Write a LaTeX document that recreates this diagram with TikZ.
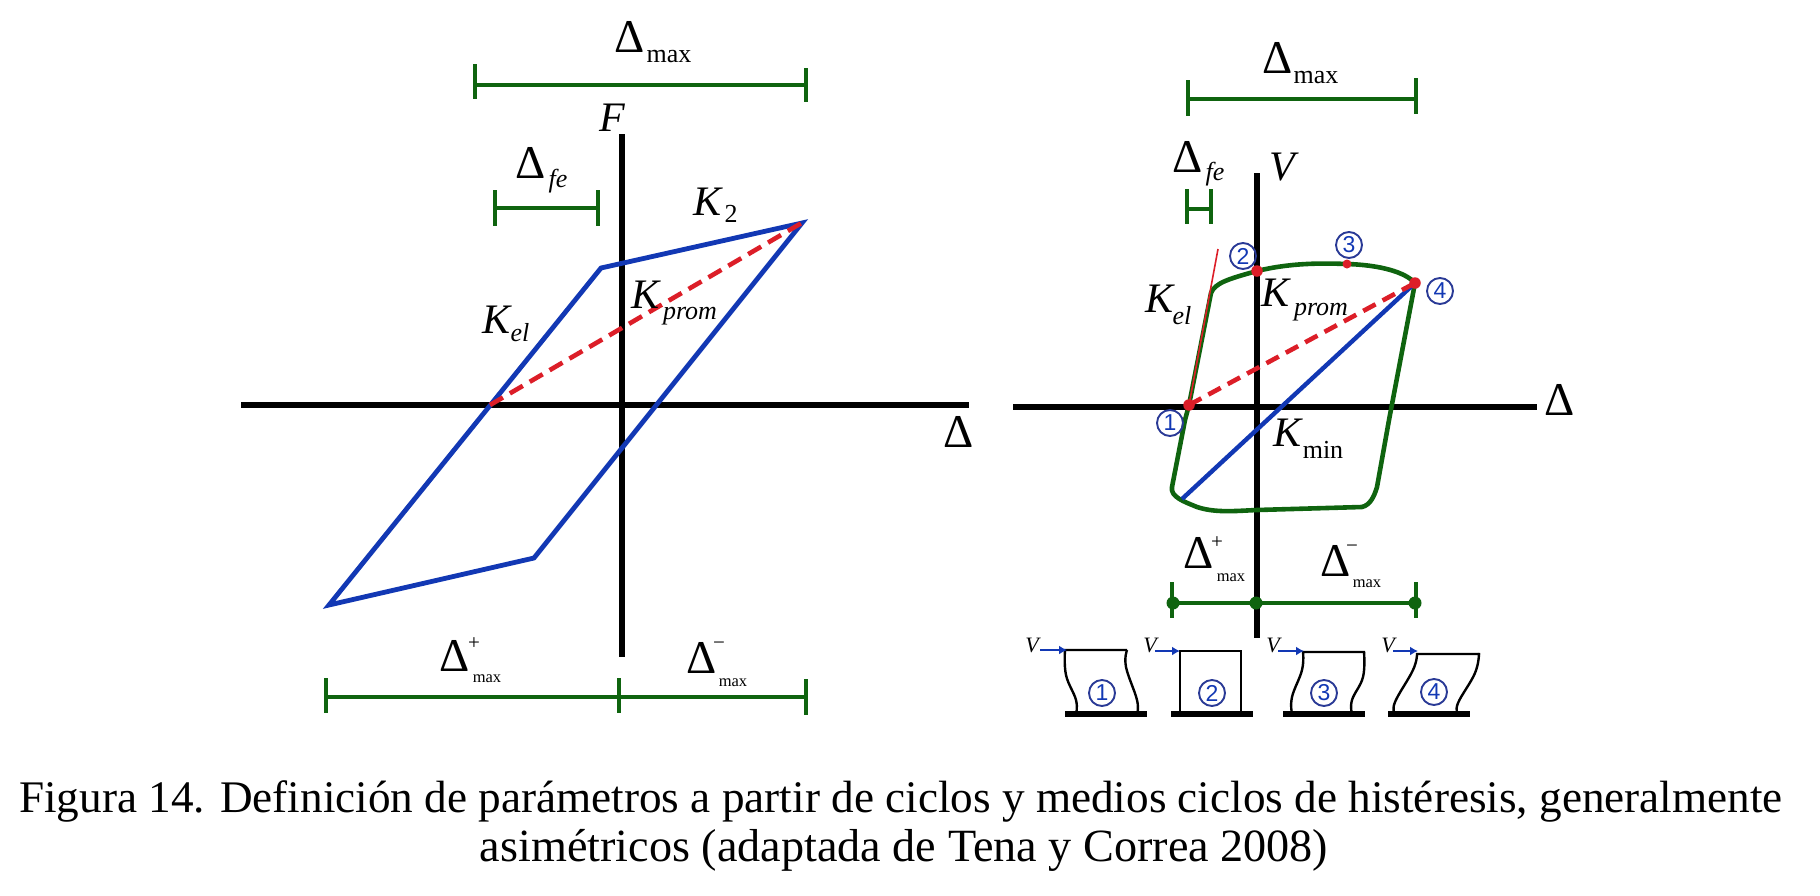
\documentclass[tikz,border=0pt]{standalone}
\usepackage{fontspec}
\setmainfont{Liberation Serif}
\newfontfamily\digitfont{Liberation Sans}
\usetikzlibrary{arrows.meta}
\definecolor{cblue}{HTML}{1238B4}
\definecolor{cgreen}{HTML}{0F640F}
\definecolor{cred}{HTML}{DC1E28}
\definecolor{cnavy}{HTML}{2A3A96}
\tikzset{
  lbl/.style={inner sep=0pt,outer sep=0pt,text=black},
  big/.style={lbl,font=\fontsize{47}{47}\selectfont},
  bigit/.style={lbl,font=\fontsize{42}{42}\selectfont\itshape},
  subt/.style={lbl,font=\fontsize{26}{26}\selectfont},
  subit/.style={lbl,font=\fontsize{26}{26}\selectfont\itshape},
  tiny/.style={lbl,font=\fontsize{16.5}{16.5}\selectfont},
  supr/.style={lbl,font=\fontsize{21}{21}\selectfont},
  smallv/.style={lbl,font=\fontsize{22}{22}\selectfont\itshape},
  caption/.style={lbl,font=\fontsize{45.2}{45.2}\selectfont,anchor=base},
  caption2/.style={lbl,font=\fontsize{46.2}{46.2}\selectfont,anchor=base},
  axis/.style={line width=5.4pt,black},
  bar/.style={line width=4pt,cgreen},
  hyst/.style={line width=4.8pt,cblue,line join=miter},
  loopl/.style={line width=4.6pt,cgreen,line join=round},
  secant/.style={line width=4.6pt,cred,dash pattern=on 15pt off 8pt},
  reddot/.style={circle,fill=cred,inner sep=0pt,minimum size=11.5pt},
  greendot/.style={circle,fill=cgreen,inner sep=0pt,minimum size=13pt},
  num/.style={circle,draw=cnavy,line width=1.9pt,inner sep=0pt,minimum size=26pt,text=cblue,font=\fontsize{23}{23}\selectfont\digitfont},
  col/.style={line width=2.4pt,black,line join=miter},
  colbase/.style={line width=5.5pt,black},
  force/.style={line width=2.6pt,cblue,-{Latex[length=8pt,width=9pt]}},
}
\begin{document}
\begin{tikzpicture}[x=1pt,y=-1pt]
\useasboundingbox (0,0) rectangle (1820,895);
% ---------- left diagram ----------
\coordinate (Lxl) at (241,405); \coordinate (Lxr) at (969,405);
\coordinate (Lyt) at (622,134); \coordinate (Lyb) at (622,657);
\draw[axis] (Lxl) -- (Lxr);
\draw[axis] (Lyt) -- (Lyb);
\coordinate (LA) at (802,223); \coordinate (LB) at (601,268);
\coordinate (LC) at (329,605); \coordinate (LD) at (534,558);
\coordinate (LO) at (490,405); \coordinate (LS) at (805,221);
\draw[hyst] (LA) -- (LB) -- (LC) -- (LD) -- cycle;
\draw[secant] (LO) -- (LS);
% left dimension bars
\coordinate (La) at (475,85); \coordinate (Lb) at (806,85);
\coordinate (Laa) at (475,64); \coordinate (Lab) at (475,99);
\coordinate (Lba) at (806,68); \coordinate (Lbb) at (806,102);
\draw[bar] (La) -- (Lb); \draw[bar] (Laa) -- (Lab); \draw[bar] (Lba) -- (Lbb);
\coordinate (Lc) at (495,208); \coordinate (Ld) at (598,208);
\coordinate (Lca) at (495,190); \coordinate (Lcb) at (495,226);
\coordinate (Lda) at (598,190); \coordinate (Ldb) at (598,226);
\draw[bar] (Lc) -- (Ld); \draw[bar] (Lca) -- (Lcb); \draw[bar] (Lda) -- (Ldb);
\coordinate (Le) at (326,697); \coordinate (Lf) at (619,697); \coordinate (Lg) at (806,697);
\coordinate (Lea) at (326,678); \coordinate (Leb) at (326,713);
\coordinate (Lfa) at (619,678); \coordinate (Lfb) at (619,713);
\coordinate (Lga) at (806,679); \coordinate (Lgb) at (806,715);
\draw[bar] (Le) -- (Lg); \draw[bar,line width=4.8pt] (Lea) -- (Leb); \draw[bar] (Lfa) -- (Lfb); \draw[bar] (Lga) -- (Lgb);
% left labels
\node[big] (t1) at (630,37) {Δ}; \node[subt] (t2) at (669,56) {max};
\node[bigit] (t3) at (612,118) {F};
\node[big] (t4) at (531,163) {Δ}; \node[subit] (t5) at (558,181) {fe};
\node[bigit] (t6) at (707,202) {K}; \node[subt] (t7) at (731,214) {2};
\node[bigit] (t8) at (645,295) {K}; \node[subit] (t9) at (690,316) {prom};
\node[bigit] (t10) at (497,320) {K}; \node[subit] (t11) at (520,333) {el};
\node[big] (t12) at (959,432) {Δ};
\node[big] (t13) at (455,656) {Δ}; \node[supr] (t14) at (474,644) {+}; \node[tiny] (t15) at (487,679) {max};
\node[big] (t16) at (702,658) {Δ}; \node[supr] (t17) at (719,646) {−}; \node[tiny] (t18) at (733,683) {max};
% ---------- right diagram ----------
\coordinate (Rxl) at (1013,407); \coordinate (Rxr) at (1537,407);
\coordinate (Ryt) at (1257,173); \coordinate (Ryb) at (1257,638);
\draw[axis] (Rxl) -- (Rxr);
\draw[axis] (Ryt) -- (Ryb);
\coordinate (P1) at (1189,405); \coordinate (P2) at (1257,271);
\coordinate (P3) at (1347,264); \coordinate (P4) at (1415,283);
\coordinate (Pk) at (1218,249); \coordinate (Pm) at (1182,499);
\draw[loopl] (P1) -- (1211,293) .. controls (1215,283) and (1228,279) .. (P2)
  .. controls (1290,263) and (1320,263) .. (P3) .. controls (1380,265) and (1405,272) .. (P4)
  -- (1389,420) -- (1377,487) .. controls (1374,497) and (1370,505) .. (1362,507)
  -- (1257,510) .. controls (1235,511) and (1215,513) .. (1197,507)
  .. controls (1185,502) and (1170,497) .. (1172,487) -- (1185,420) -- cycle;
\draw[cred,line width=1.6pt] (P1) -- (Pk);
\draw[cblue,line width=4.4pt] (Pm) -- (P4);
\draw[secant,dash pattern=on 14pt off 8pt] (P1) -- (P4);
\node[reddot] (d1) at (P1) {}; \node[reddot] (d2) at (P2) {};
\node[reddot,minimum size=9pt] (d3) at (P3) {}; \node[reddot] (d4) at (P4) {};
% right dimension bars
\coordinate (Ra) at (1188,99); \coordinate (Rb) at (1416,99);
\coordinate (Raa) at (1188,80); \coordinate (Rab) at (1188,116);
\coordinate (Rba) at (1416,78); \coordinate (Rbb) at (1416,114);
\draw[bar] (Ra) -- (Rb); \draw[bar] (Raa) -- (Rab); \draw[bar] (Rba) -- (Rbb);
\coordinate (Rc) at (1187,209); \coordinate (Rd) at (1211,209);
\coordinate (Rca) at (1187,189); \coordinate (Rcb) at (1187,224);
\coordinate (Rda) at (1211,189); \coordinate (Rdb) at (1211,224);
\draw[bar] (Rc) -- (Rd); \draw[bar] (Rca) -- (Rcb); \draw[bar] (Rda) -- (Rdb);
\coordinate (Re) at (1173,603); \coordinate (Rf) at (1256,603); \coordinate (Rg) at (1415,603);
\coordinate (Rea) at (1172,582); \coordinate (Reb) at (1172,618);
\coordinate (Rga) at (1416,582); \coordinate (Rgb) at (1416,618);
\draw[bar] (Re) -- (Rg); \draw[bar] (Rea) -- (Reb); \draw[bar] (Rga) -- (Rgb);
\node[greendot] (g1) at (Re) {}; \node[greendot] (g2) at (Rf) {}; \node[greendot] (g3) at (Rg) {};
% right labels
\node[big] (r1) at (1278,58) {Δ}; \node[subt] (r2) at (1316,77) {max};
\node[big] (r3) at (1188,157) {Δ}; \node[subit] (r4) at (1215,174) {fe};
\node[bigit] (r5) at (1282,167) {V};
\node[big] (r6) at (1560,400) {Δ};
\node[bigit] (r7) at (1159,299) {K}; \node[subit] (r8) at (1182,316) {el};
\node[bigit] (r9) at (1275,293) {K}; \node[subit] (r10) at (1321,312) {prom};
\node[bigit] (r11) at (1287,433) {K}; \node[subt] (r12) at (1323,450) {min};
\node[big] (r13) at (1199,553) {Δ}; \node[supr] (r14) at (1217,543) {+}; \node[tiny] (r15) at (1231,578) {max};
\node[big] (r16) at (1336,561) {Δ}; \node[supr] (r17) at (1352,549) {−}; \node[tiny] (r18) at (1367,584) {max};
\node[num] (n1) at (1170,423) {1};
\node[num] (n2) at (1243,256) {2};
\node[num] (n3) at (1349,245) {3};
\node[num] (n4) at (1440,291) {4};
% ---------- deformed columns ----------
\coordinate (B1a) at (1065,714); \coordinate (B1b) at (1147,714);
\coordinate (B2a) at (1171,714); \coordinate (B2b) at (1253,714);
\coordinate (B3a) at (1283,714); \coordinate (B3b) at (1365,714);
\coordinate (B4a) at (1388,714); \coordinate (B4b) at (1470,714);
\draw[colbase] (B1a) -- (B1b); \draw[colbase] (B2a) -- (B2b);
\draw[colbase] (B3a) -- (B3b); \draw[colbase] (B4a) -- (B4b);
\coordinate (C1a) at (1065,650); \coordinate (C1b) at (1127,650);
\draw[col] plot[smooth,tension=.7] coordinates {(1076,714) (1076,700) (1066,675) (C1a)} -- (C1b);
\draw[col] plot[smooth,tension=.7] coordinates {(C1b) (1126,667) (1137,700) (1137,714)};
\coordinate (C2a) at (1180,651); \coordinate (C2b) at (1241,651);
\coordinate (C2c) at (1180,714); \coordinate (C2d) at (1241,714);
\draw[col] (C2c) -- (C2a) -- (C2b) -- (C2d);
\coordinate (C3a) at (1303,652); \coordinate (C3b) at (1365,652);
\draw[col] plot[smooth,tension=.7] coordinates {(1292,714) (1292,697) (1302,670) (C3a)} -- (C3b);
\draw[col] plot[smooth,tension=.7] coordinates {(1364,652) (1363,677) (1352,700) (1352,714)};
\coordinate (C4a) at (1417,654); \coordinate (C4b) at (1480,654);
\draw[col] plot[smooth,tension=.7] coordinates {(1395,714) (1395,702) (1413,670) (C4a)} -- (C4b);
\draw[col] plot[smooth,tension=.7] coordinates {(1479,653) (1475,673) (1458,703) (1458,714)};
\coordinate (F1) at (1040,650); \coordinate (F2) at (1155,651);
\coordinate (F3) at (1278,651); \coordinate (F4) at (1393,651);
\coordinate (F1t) at (1067,650); \coordinate (F2t) at (1180,651);
\coordinate (F3t) at (1304,651); \coordinate (F4t) at (1418,651);
\draw[force] (F1) -- (F1t);
\draw[force] (F2) -- (F2t);
\draw[force] (F3) -- (F3t);
\draw[force] (F4) -- (F4t);
\node[smallv] (v1) at (1032,645) {V}; \node[smallv] (v2) at (1150,645) {V};
\node[smallv] (v3) at (1273,645) {V}; \node[smallv] (v4) at (1388,645) {V};
\node[num] (c1) at (1102,693) {1}; \node[num] (c2) at (1212,693) {2};
\node[num] (c3) at (1324,693) {3}; \node[num] (c4) at (1434,692) {4};
% ---------- caption ----------
\node[caption] (cap1) at (901,812) {Figura 14. Definición de parámetros a partir de ciclos y medios ciclos de histéresis, generalmente};
\node[caption2] (cap2) at (904,861) {asimétricos (adaptada de Tena y Correa 2008)};
\end{tikzpicture}
\end{document}
